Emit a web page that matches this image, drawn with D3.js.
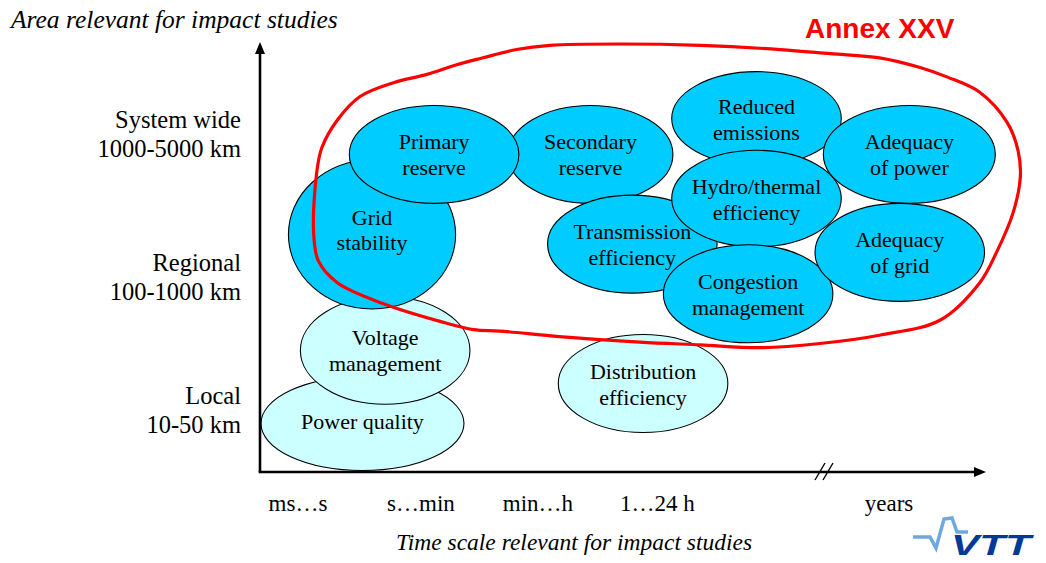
<!DOCTYPE html>
<html>
<head>
<meta charset="utf-8">
<script src="https://cdn.jsdelivr.net/npm/d3@7"></script>
<style>
  html, body { margin: 0; padding: 0; background: #fff; }
  svg { display: block; }
</style>
</head>
<body>
<svg id="chart" width="1046" height="563"></svg>
<script>
// ---------------- DATA ----------------
const timeLabels = ["ms…s", "s…min", "min…h", "1…24 h", "years"];
const timeValues = [0, 1.03, 2.01, 3.01, 4.95];

const areaLabels = [["Local", "10-50 km"], ["Regional", "100-1000 km"], ["System wide", "1000-5000 km"]];
const areaValues = [0.5, 1.46, 2.5];

// ellipses in drawing order
const topicNames = [
  ["Power quality"],
  ["Voltage", "management"],
  ["Grid", "stability"],
  ["Secondary", "reserve"],
  ["Primary", "reserve"],
  ["Transmission", "efficiency"],
  ["Reduced", "emissions"],
  ["Hydro/thermal", "efficiency"],
  ["Congestion", "management"],
  ["Adequacy", "of power"],
  ["Adequacy", "of grid"],
  ["Distribution", "efficiency"]
];
const topicTime  = [0.54, 0.73, 0.62, 2.45, 1.14, 2.80, 3.84, 3.84, 3.77, 5.12, 5.04, 2.89];
const topicArea  = [0.46, 0.99, 1.83, 2.41, 2.41, 1.76, 2.67, 2.09, 1.40, 2.41, 1.70, 0.75];
const topicTimeSpan = [0.85, 0.71, 0.70, 0.69, 0.71, 0.71, 0.71, 0.71, 0.71, 0.72, 0.71, 0.71];
const topicAreaSpan = [0.34, 0.39, 0.54, 0.355, 0.355, 0.355, 0.34, 0.35, 0.355, 0.355, 0.355, 0.355];
const topicInAnnex = [false, false, true, true, true, true, true, true, true, true, true, false];

// hand-drawn "Annex XXV" boundary (time, area)
const annexLoop = [
  [0.13, 1.86], [0.16, 2.30], [0.20, 2.46], [0.33, 2.66], [0.52, 2.83], [0.80, 2.93],
  [1.08, 2.99], [1.33, 3.06], [1.55, 3.11], [1.83, 3.17], [2.11, 3.20], [2.70, 3.21],
  [3.37, 3.20], [4.04, 3.17], [4.46, 3.14], [4.87, 3.11], [5.21, 3.04], [5.44, 2.97],
  [5.71, 2.86], [5.94, 2.64], [6.03, 2.44], [6.05, 2.25], [5.99, 1.99], [5.85, 1.70],
  [5.71, 1.48], [5.38, 1.21], [4.87, 1.10], [4.37, 1.04], [3.87, 1.01], [3.37, 1.03],
  [2.86, 1.05], [2.19, 1.09], [1.69, 1.13], [1.47, 1.14], [1.19, 1.20], [0.71, 1.33],
  [0.33, 1.48], [0.17, 1.64]
];

// ---------------- LAYOUT ----------------
const svg = d3.select("#chart");
const serif = "'Liberation Serif', 'Times New Roman', serif";
const sans = "'Liberation Sans', Arial, sans-serif";

const x = d3.scaleLinear().domain([0, 5]).range([298, 895]);
const y = d3.scaleLinear().domain([0, 3]).range([487, 73]);
const pxPerTime = x(1) - x(0);
const pxPerArea = y(0) - y(1);

const axisX0 = 260, axisY0 = 472, axisXEnd = 986, axisYEnd = 42;

const topics = topicNames.map((n, i) => ({
  lines: n, t: topicTime[i], a: topicArea[i], rt: topicTimeSpan[i], ra: topicAreaSpan[i], annex: topicInAnnex[i]
}));

svg.append("g").selectAll("ellipse").data(topics).enter().append("ellipse")
  .attr("cx", d => x(d.t))
  .attr("cy", d => y(d.a))
  .attr("rx", d => d.rt * pxPerTime)
  .attr("ry", d => d.ra * pxPerArea)
  .attr("fill", d => d.annex ? "#00CCFF" : "#CCFFFF")
  .attr("stroke", "#000")
  .attr("stroke-width", 1.1);

// red annex loop
svg.append("path")
  .datum(annexLoop)
  .attr("d", d3.line().x(d => x(d[0])).y(d => y(d[1])).curve(d3.curveCatmullRomClosed.alpha(0.5)))
  .attr("fill", "none")
  .attr("stroke", "#FF0000")
  .attr("stroke-width", 3.2)
  .attr("stroke-linejoin", "round");

// ellipse labels
topics.forEach(d => {
  const cx = x(d.t), cy = y(d.a);
  const tall = d.ra > 0.5;
  const offs = d.lines.length === 1 ? [5] : (tall ? [-9, 16] : [-5, 21]);
  d.lines.forEach((line, j) => {
    svg.append("text")
      .attr("x", cx).attr("y", cy + offs[j])
      .attr("text-anchor", "middle")
      .attr("font-family", serif).attr("font-size", 22)
      .attr("fill", "#000")
      .text(line);
  });
});

// axes
svg.append("line").attr("x1", axisX0).attr("y1", axisY0).attr("x2", axisX0).attr("y2", axisYEnd + 10)
  .attr("stroke", "#000").attr("stroke-width", 2.6);
svg.append("path").attr("d", `M${axisX0},${axisYEnd} L${axisX0 - 5},${axisYEnd + 12} L${axisX0 + 5},${axisYEnd + 12} Z`)
  .attr("fill", "#000");
svg.append("line").attr("x1", axisX0 - 1.3).attr("y1", axisY0).attr("x2", axisXEnd - 10).attr("y2", axisY0)
  .attr("stroke", "#000").attr("stroke-width", 2.6);
svg.append("path").attr("d", `M${axisXEnd},${axisY0} L${axisXEnd - 12},${axisY0 - 5} L${axisXEnd - 12},${axisY0 + 5} Z`)
  .attr("fill", "#000");

// axis break "//"
[0, 8].forEach(dx => {
  svg.append("line")
    .attr("x1", 815 + dx).attr("y1", axisY0 + 8)
    .attr("x2", 825 + dx).attr("y2", axisY0 - 9)
    .attr("stroke", "#000").attr("stroke-width", 1.4);
});

// x tick labels
timeLabels.forEach((lab, i) => {
  svg.append("text")
    .attr("x", x(timeValues[i])).attr("y", 511)
    .attr("text-anchor", "middle")
    .attr("font-family", serif).attr("font-size", 23)
    .attr("fill", "#000")
    .text(lab);
});

// y labels
areaLabels.forEach((lines, i) => {
  const cy = y(areaValues[i]);
  lines.forEach((line, j) => {
    svg.append("text")
      .attr("x", 241).attr("y", cy - 14.5 + j * 29)
      .attr("text-anchor", "end")
      .attr("font-family", serif).attr("font-size", 24.5)
      .attr("fill", "#000")
      .text(line);
  });
});

// axis titles
svg.append("text").attr("x", 11).attr("y", 28)
  .attr("font-family", serif).attr("font-style", "italic").attr("font-size", 25.5)
  .attr("fill", "#000").text("Area relevant for impact studies");
svg.append("text").attr("x", 574).attr("y", 550).attr("text-anchor", "middle")
  .attr("font-family", serif).attr("font-style", "italic").attr("font-size", 23.5)
  .attr("fill", "#000").text("Time scale relevant for impact studies");

// Annex label
svg.append("text").attr("x", 805).attr("y", 38)
  .attr("font-family", sans).attr("font-weight", "bold").attr("font-size", 28)
  .attr("fill", "#FF0000").text("Annex XXV");

// VTT logo
svg.append("path")
  .attr("d", "M913,537 L930,537 L936,548 L944,519 L952,518 L957,532 L968,532")
  .attr("fill", "none").attr("stroke", "#6FA8DC").attr("stroke-width", 3.5)
  .attr("stroke-linejoin", "miter");
svg.append("text").attr("x", 951).attr("y", 555)
  .attr("font-family", sans).attr("font-weight", "bold").attr("font-style", "italic")
  .attr("font-size", 30).attr("textLength", 80).attr("lengthAdjust", "spacingAndGlyphs")
  .attr("fill", "#003A96").text("VTT");
</script>
</body>
</html>
